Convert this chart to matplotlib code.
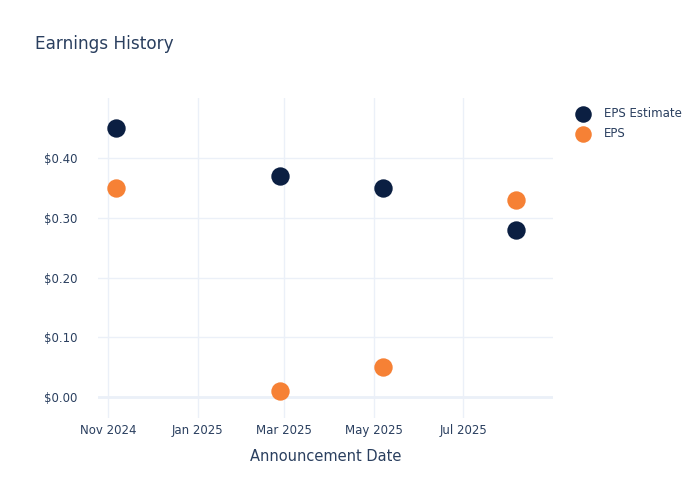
import numpy as np
import pandas as pd
import matplotlib
matplotlib.use('Agg')
import matplotlib.pyplot as plt
import matplotlib.dates as mdates

# data
DATES = pd.to_datetime(['2024-11-06', '2025-02-26', '2025-05-07', '2025-08-06'])
EPS_ESTIMATE = [0.45, 0.37, 0.35, 0.28]
EPS_ACTUAL = [0.35, 0.01, 0.05, 0.33]
Y_TICKS = [0.0, 0.1, 0.2, 0.3, 0.4]

TEXT = '#2a3f5f'
GRID = '#ebf0f8'
NAVY = '#0b1f42'
ORANGE = '#f68135'

plt.rcParams['font.family'] = ['DejaVu Sans']

fig = plt.figure(figsize=(7, 5), dpi=100)
ax = fig.add_axes([0.14, 0.164, 0.65, 0.64])

ax.scatter(DATES, EPS_ESTIMATE, s=175, color=NAVY, label='EPS Estimate', zorder=3, linewidths=0)
ax.scatter(DATES, EPS_ACTUAL, s=175, color=ORANGE, label='EPS', zorder=3, linewidths=0)

# axes limits and ticks
ax.set_xlim(pd.Timestamp('2024-10-25'), pd.Timestamp('2025-08-31'))
ax.set_ylim(-0.035, 0.5004)
ax.xaxis.set_major_locator(mdates.MonthLocator(bymonth=[1, 3, 5, 7, 11]))
ax.xaxis.set_major_formatter(mdates.DateFormatter('%b %Y'))
ax.set_yticks(Y_TICKS)
ax.set_yticklabels([f'${v:.2f}' for v in Y_TICKS])

ax.grid(True, color=GRID, linewidth=1)
ax.axhline(0, color=GRID, linewidth=2, zorder=1)
ax.set_axisbelow(True)
for sp in ax.spines.values():
    sp.set_visible(False)
ax.tick_params(length=0, colors=TEXT, labelsize=8.5)
ax.tick_params(axis='y', pad=15)
ax.tick_params(axis='x', pad=4)

ax.set_xlabel('Announcement Date', color=TEXT, fontsize=10.5, labelpad=9)
fig.text(0.05, 0.912, 'Earnings History', color=TEXT, fontsize=12.2, va='center')

leg = fig.legend(loc='upper left', bbox_to_anchor=(0.816, 0.786), frameon=False,
                 fontsize=8.5, handletextpad=0.75, labelspacing=0.6, borderaxespad=0,
                 borderpad=0, markerscale=0.9)
for t in leg.get_texts():
    t.set_color(TEXT)

fig.savefig('out.png', dpi=100)
